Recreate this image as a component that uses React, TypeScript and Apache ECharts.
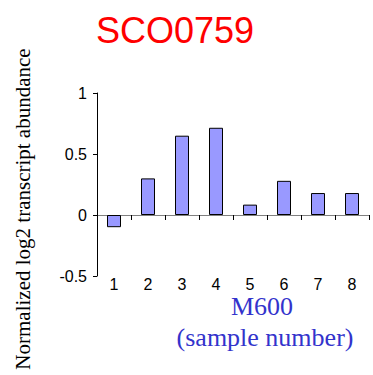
import React, { useEffect, useRef } from "react";
import * as echarts from "echarts";

const categories = ["1", "2", "3", "4", "5", "6", "7", "8"];
const values = [-0.1, 0.3, 0.65, 0.715, 0.085, 0.28, 0.18, 0.18];
const yTicks = [-0.5, 0, 0.5, 1];

export default function App() {
  const ref = useRef<HTMLDivElement>(null);
  useEffect(() => {
    if (!ref.current) return;
    const chart = echarts.init(ref.current, null, { renderer: "svg" });
    chart.setOption({
      animation: false,
      grid: { left: 97, top: 93, right: 4, bottom: 99, containLabel: false },
      title: {
        text: "SCO0759",
        left: 170,
        top: 7,
        textAlign: "center",
        textStyle: { color: "#FF0000", fontFamily: "Liberation Sans, Arial", fontSize: 36, fontWeight: "normal" },
      },
      xAxis: [
        {
          type: "category",
          data: categories,
          position: "bottom",
          axisLine: { onZero: true, lineStyle: { color: "#808080", width: 1 } },
          axisTick: { show: true, length: 5, lineStyle: { color: "#000" }, alignWithLabel: false },
          axisLabel: { show: false },
          splitLine: { show: false },
        },
        {
          type: "category",
          data: categories,
          position: "bottom",
          axisLine: { show: false, onZero: false },
          axisTick: { show: false },
          axisLabel: {
            show: true,
            margin: 1,
            color: "#000",
            fontFamily: "Liberation Sans, Arial",
            fontSize: 16,
            lineHeight: 15,
          },
          splitLine: { show: false },
        },
      ],
      yAxis: {
        type: "value",
        min: yTicks[0],
        max: yTicks[yTicks.length - 1],
        interval: 0.5,
        axisLine: { show: true, lineStyle: { color: "#000", width: 1 } },
        axisTick: { show: true, length: 4, lineStyle: { color: "#000" } },
        axisLabel: {
          margin: 10,
          color: "#000",
          fontFamily: "Liberation Sans, Arial",
          fontSize: 16,
          formatter: (v: number) => String(v),
        },
        splitLine: { show: false },
      },
      series: [
        {
          type: "bar",
          xAxisIndex: 0,
          data: values,
          barWidth: 14,
          itemStyle: { color: "#9999FF", borderColor: "#000", borderWidth: 1 },
        },
      ],
      graphic: [
        {
          type: "text",
          x: 23,
          y: 209,
          rotation: Math.PI / 2,
          style: {
            text: "Normalized log2 transcript abundance",
            fill: "#000",
            font: "21px 'Liberation Serif', 'Times New Roman', serif",
            textAlign: "center",
            textVerticalAlign: "middle",
          },
        },
        {
          type: "text",
          x: 262,
          y: 306,
          style: {
            text: "M600",
            fill: "#3333CC",
            font: "26px 'Liberation Serif', 'Times New Roman', serif",
            lineHeight: 22,
            textAlign: "center",
            textVerticalAlign: "middle",
          },
        },
        {
          type: "text",
          x: 265,
          y: 337,
          style: {
            text: "(sample number)",
            fill: "#3333CC",
            font: "26px 'Liberation Serif', 'Times New Roman', serif",
            lineHeight: 26,
            textAlign: "center",
            textVerticalAlign: "middle",
          },
        },
      ],
    });
    return () => chart.dispose();
  }, []);
  return (
    <div
      ref={ref}
      style={{ position: "absolute", left: 0, top: 0, width: 373, height: 375 }}
    />
  );
}
